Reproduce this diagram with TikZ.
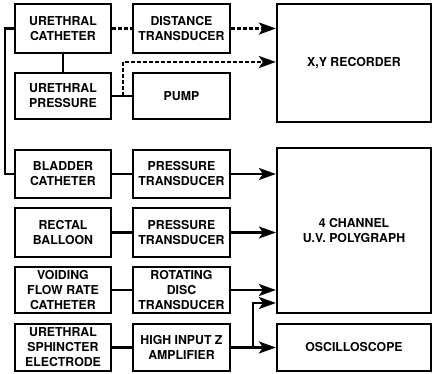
\documentclass[tikz,border=0pt]{standalone}
\usepackage{fontspec}
\setmainfont{TeX Gyre Heros}
\usetikzlibrary{arrows.meta}
\begin{document}
\begin{tikzpicture}[x=1pt,y=-1pt,
	caja/.style={draw,line width=2.2pt,minimum width=96pt,inner sep=0pt,align=center,font=\fontsize{12.3}{15}\selectfont\bfseries},
	linea/.style={line width=2.2pt},
	puntos/.style={line width=2.6pt,dash pattern=on 4pt off 2pt},
	flecha/.style={-{Stealth[length=17pt,width=12pt,inset=4pt]}}]
	\useasboundingbox (0,0) rectangle (434,374);

		%Cajas de la uretra
		\node[caja,minimum height=49pt] (1) at (63,28.5) {URETHRAL\\CATHETER};
		\node[caja,minimum height=49pt,minimum width=97pt] (2) at (181.5,28.5) {DISTANCE\\TRANSDUCER};
		\node[caja,minimum height=46pt] (4) at (63,96) {URETHRAL\\PRESSURE};
		\node[caja,minimum height=46pt,minimum width=97pt] (5) at (181.5,96) {PUMP};
		%Registrador X,Y
		\node[caja,minimum height=118pt,minimum width=154pt] (3) at (354,63) {X,Y RECORDER};

		%Cajas de vejiga, recto y flujo
		\node[caja,minimum height=48pt] (6) at (63,174) {BLADDER\\CATHETER};
		\node[caja,minimum height=48pt,minimum width=97pt] (7) at (181.5,174) {PRESSURE\\TRANSDUCER};
		\node[caja,minimum height=49pt] (9) at (63,232.5) {RECTAL\\BALLOON};
		\node[caja,minimum height=49pt,minimum width=97pt] (10) at (181.5,232.5) {PRESSURE\\TRANSDUCER};
		\node[caja,minimum height=46pt] (11) at (63,290) {VOIDING\\FLOW RATE\\CATHETER};
		\node[caja,minimum height=46pt,minimum width=97pt] (12) at (181.5,290) {ROTATING\\DISC\\TRANSDUCER};
		\node[caja,minimum height=47pt] (13) at (63,347.5) {URETHRAL\\SPHINCTER\\ELECTRODE};
		\node[caja,minimum height=47pt,minimum width=97pt] (14) at (181.5,347.5) {HIGH INPUT Z\\AMPLIFIER};
		%Polígrafo y osciloscopio
		\node[caja,minimum height=165pt,minimum width=154pt] (8) at (354,230.5) {4 CHANNEL\\U.V. POLYGRAPH};
		\node[caja,minimum height=47pt,minimum width=154pt] (15) at (354,347.5) {OSCILLOSCOPE};

		%Lineas de la uretra
		\coordinate (a) at (5,28.5);
		\coordinate (b) at (5,174);
		\draw[linea] (1) -- (4);
		\draw[linea] (1.west) -- (a) -- (b) -- (6.west);
		\draw[puntos] (1) -- (2);
		\draw[puntos,flecha] (2.east) -- (3.west |- 2.east);
		\coordinate (c) at (123,96);
		\coordinate (d) at (123,62);
		\draw[linea] (4) -- (5);
		\draw[puntos,flecha] (c) -- (d) -- (3.west |- d);

		%Flechas al polígrafo
		\draw[linea] (6) -- (7);
		\draw[linea,flecha] (7.east) -- (8.west |- 7.east);
		\draw[linea] (9) -- (10);
		\draw[linea,flecha] (10.east) -- (8.west |- 10.east);
		\draw[linea] (11) -- (12);
		\draw[linea,flecha] (12.east) -- (8.west |- 12.east);

		%Amplificador al osciloscopio
		\coordinate (e) at (253,347.5);
		\coordinate (f) at (253,303);
		\draw[linea] (13) -- (14);
		\draw[linea,flecha] (14) -- (15);
		\draw[linea,flecha] (e) -- (f) -- (8.west |- f);

\end{tikzpicture}
\end{document}
